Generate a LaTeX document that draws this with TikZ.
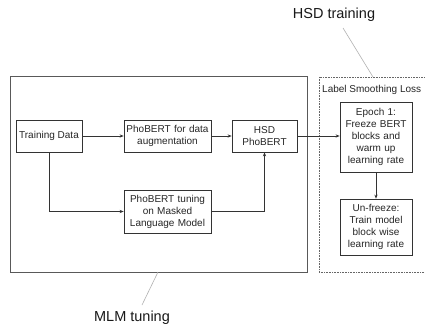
\documentclass[tikz,border=0pt]{standalone}
\usepackage{fontspec}
\setmainfont{Liberation Sans}
\usetikzlibrary{arrows.meta}
\begin{document}
\begin{tikzpicture}[x=1pt,y=-1pt,
  boxnode/.style={draw=black!80,line width=0.7pt,align=center,inner sep=1pt,
    font=\fontsize{10}{12}\selectfont,text=black!85},
  conn/.style={draw=black!80,line width=0.7pt,-{Stealth[length=4pt,width=3.2pt]}},
  callout/.style={draw=black!30,line width=0.6pt},
  bigtext/.style={font=\fontsize{14.5}{17}\selectfont,text=black!90,inner sep=0pt}]
\useasboundingbox (0,0) rectangle (425,326);
\fill[white] (0,0) rectangle (425,326);
% outer groups
\draw[black!65,line width=0.8pt] (10,76) rectangle (307,272);
\draw[black!60,line width=0.8pt,dash pattern=on 0.8pt off 0.8pt] (319,77) rectangle (428,272);
\node[anchor=west,inner sep=0pt,font=\fontsize{10}{12}\selectfont,text=black!85] (lsl) at (322,90) {Label Smoothing Loss};
% nodes
\node[boxnode,minimum width=66pt,minimum height=32pt] (td) at (49,136) {Training Data};
\node[boxnode,minimum width=87pt,minimum height=32pt,text width=85pt] (aug) at (167.5,136) {PhoBERT for data\\augmentation};
\node[boxnode,minimum width=65pt,minimum height=32pt,text width=63pt] (hsd) at (264.5,136) {HSD\\PhoBERT};
\node[boxnode,minimum width=87pt,minimum height=43pt,text width=85pt] (mlm) at (167.5,211.5) {PhoBERT tuning\\on Masked\\Language Model};
\node[boxnode,minimum width=72pt,minimum height=70pt,text width=70pt] (ep) at (376,137) {Epoch 1:\\Freeze BERT\\blocks and\\warm up\\learning rate};
\node[boxnode,minimum width=72pt,minimum height=56pt,text width=70pt] (uf) at (376,227) {Un-freeze:\\Train model\\block wise\\learning rate};
% connectors
\draw[conn] (td.east) -- (aug.west);
\draw[conn] (aug.east) -- (hsd.west);
\draw[conn] (td.south) |- (mlm.west);
\draw[conn] (mlm.east) -| (hsd.south);
\draw[conn] (hsd.east) -- (hsd.east -| ep.west);
\draw[conn] (ep.south) -- (uf.north);
% callouts
\node[bigtext] (hsdt) at (334,15) {HSD training};
\coordinate (hsdtop) at (373,77);
\draw[callout] (343,28) -- (hsdtop);
\node[bigtext] (mlmt) at (132,318) {MLM tuning};
\coordinate (mlmbot) at (158,272);
\draw[callout] (mlmbot) -- (142,305);
\end{tikzpicture}
\end{document}
